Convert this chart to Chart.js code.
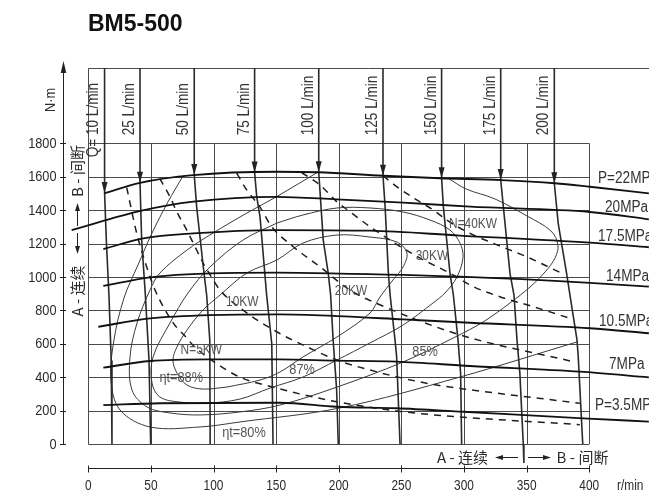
<!DOCTYPE html>
<html>
<head>
<meta charset="utf-8">
<script src="https://cdn.jsdelivr.net/npm/chart.js@4.4.1/dist/chart.umd.min.js"></script>
<style>
  html, body { margin: 0; padding: 0; background: #fff; }
  canvas { display: block; }
</style>
</head>
<body>
<canvas id="map" width="649" height="493"></canvas>
<script>
/* BM5-500 — torque / speed performance map */

const RPM_TICKS = [0, 50, 100, 150, 200, 250, 300, 350, 400];
const NM_TICKS  = [0, 200, 400, 600, 800, 1000, 1200, 1400, 1600, 1800];

// constant flow lines  [r/min, N·m]  (first point = top rule, second = arrow tip)
const FLOW_NAMES = ['Q= 10 L/min', '25 L/min', '50 L/min', '75 L/min', '100 L/min',
                    '125 L/min', '150 L/min', '175 L/min', '200 L/min'];
const FLOW_10  = [[13,2251],[13,1503],[14.5,1200],[16.5,890],[18.3,500],[18.9,0]];
const FLOW_25  = [[41.3,2251],[41.3,1564],[42.6,1221],[45.5,900],[48.5,500],[49.8,0]];
const FLOW_50  = [[84.6,2251],[84.6,1611],[86.5,1421],[91.8,1061],[94.5,892],[97,623],[97.3,0]];
const FLOW_75  = [[132.8,2251],[132.8,1625],[134.5,1480],[137.1,1361],[142.4,892],[146.5,600],[147.5,0]];
const FLOW_100 = [[184,2251],[184,1627],[187.6,1221],[191.6,1022],[193.5,892],[195.5,623],[198.3,323],[199.6,0]];
const FLOW_125 = [[235.3,2251],[235.3,1606],[237,1421],[239.6,1022],[241,892],[244.9,623],[246.2,523],[248.9,0]];
const FLOW_150 = [[282.1,2251],[282.1,1591],[283.5,1421],[288.8,1022],[291.5,892],[295.2,623],[297.3,423],[298.1,0]];
const FLOW_175 = [[329.3,2251],[329.3,1580],[331.4,1421],[336.7,1022],[339.9,892],[342.3,623],[344.6,423],[347.3,0],[347.8,-114]];
const FLOW_200 = [[372.1,2251],[372.1,1561],[375.2,1321],[381.9,1022],[384.6,892],[390.2,623],[391.2,523],[394.8,0]];
const FLOW_LINES = [FLOW_10, FLOW_25, FLOW_50, FLOW_75, FLOW_100, FLOW_125, FLOW_150, FLOW_175, FLOW_200];

// constant pressure lines
const PRESS_NAMES = ['P=22MPa', '20MPa', '17.5MPa', '14MPa', '10.5MPa', '7MPa', 'P=3.5MPa'];
const P_22   = [[12.8,1501],[41.3,1564],[83.8,1610],[150.4,1630],[183.4,1627],[235.3,1606],[280.8,1591],[330,1580],[372.6,1561],[400.5,1540],[447.6,1501]];
const P_20   = [[-13.3,1281],[42.6,1397],[83.8,1451],[150.4,1480],[198.3,1465],[251.5,1445],[304.8,1421],[400.5,1389],[447.6,1345]];
const P_17_5 = [[12,1167],[43.9,1231],[83.8,1261],[150.4,1281],[224.9,1277],[296.7,1248],[400.5,1205],[447.6,1178]];
const P_14   = [[12,946],[49.3,998],[97.2,1022],[150.4,1026],[193.3,1022],[296.7,1002],[400.5,965],[447.6,942]];
const P_10_5 = [[8,702],[49.3,752],[97.2,772],[153.1,776],[198.3,766],[251.5,746],[304.8,726],[400.5,693],[447.6,663]];
const P_7    = [[12,457],[49.3,497],[97.2,507],[153.1,507],[198.3,499],[246.2,493],[304.8,467],[392.5,433],[447.6,399]];
const P_3_5  = [[12,233],[57.2,244],[153.1,247],[198.3,223],[246.2,214],[299.4,193],[395.2,154],[447.6,134]];
const PRESSURE_LINES = [P_22, P_20, P_17_5, P_14, P_10_5, P_7, P_3_5];

// constant output power (dashed)
const POWER_NAMES = ['N=5KW', '10KW', '20KW', '30KW', 'N=40KW'];
const POWER_5  = [[30.7,1535],[38.6,1263],[46.6,1061],[53.3,922],[67.9,724],[78.6,635],[83.8,590],[99.8,495],[121.1,400],[147.7,340],[198.3,253],[251.5,193],[291.4,165],[392.5,116]];
const POWER_10 = [[57,1590],[65.2,1480],[70.6,1391],[78.6,1281],[85.2,1181],[91.8,1082],[99.8,982],[105.1,922],[121.1,815],[150.4,672],[177,573],[198.3,503],[224.9,443],[251.5,393],[278.2,353],[299.4,330],[392.5,244]];
const POWER_20 = [[118.5,1621],[126.5,1521],[137,1420],[146,1305],[163.7,1181],[185,1061],[208.8,922],[230.2,842],[297,653],[387.2,493]];
const POWER_30 = [[170.4,1625],[185,1551],[198.3,1451],[208.9,1391],[224.9,1301],[262,1125],[288.8,1022],[307.4,942],[328.6,882],[355.3,822],[384.9,752]];
const POWER_40 = [[235.3,1606],[246.2,1541],[262.2,1461],[275.5,1401],[286.1,1341],[304.8,1261],[323.4,1201],[350,1121],[380,1015]];
const POWER_LINES = [POWER_5, POWER_10, POWER_20, POWER_30, POWER_40];
const POWER_LABEL_AT = [[90.2,563],[122.9,850],[209.8,916],[274.4,1125],[307.2,1317]];

// total efficiency contours
const ETA_NAMES = ['ηt=80%', '85%', '87%', 'ηt=88%'];
const ETA_80 = [[75.6,1604],[63.6,1449],[50.9,1263],[39.7,1072],[28.5,874],[20.5,623],[18.1,383],[25.3,204],[49.3,102],[89.2,102],[121.1,132],[201,216],[296.8,401],[390.2,611]];
const ETA_85 = [[183.4,1628],[149.9,1479],[126.7,1383],[99.6,1263],[78.8,1161],[57.2,1024],[49.3,922],[38.9,724],[33.3,521],[34.9,323],[46.9,222],[65.2,186],[89.2,174],[121.1,192],[153,233],[198.6,341],[251.3,491],[292.8,640],[315.1,730],[336.7,844],[352.7,940],[364.7,1030],[372.7,1114],[375,1191],[369.5,1275],[350.3,1365],[324.7,1467],[301.6,1527],[287.2,1592]];
const ETA_87 = [[150.7,1323],[171.4,1371],[198.6,1413],[224.9,1413],[251.3,1389],[272.8,1341],[288.8,1281],[296.8,1203],[299.2,1119],[294.4,1000],[284.8,904],[275.2,844],[251.3,712],[224.9,605],[198.6,503],[171.4,401],[145.1,335],[121.1,269],[94.8,245],[73.2,251],[57.2,281],[50.9,365],[51.7,521],[65.2,724],[79.6,904],[97.2,1060],[123.5,1221],[150.7,1323]];
const ETA_88 = [[110.7,341],[137.1,383],[153,431],[171.4,521],[198.6,641],[224.9,784],[232.9,880],[243.3,982],[251.3,1060],[254.4,1143],[246.5,1209],[224.9,1239],[198.6,1251],[171.4,1203],[150.7,1102],[126.7,1024],[105.2,892],[91.6,802],[78.8,682],[70.8,581],[67.6,503],[70.8,425],[78.8,353],[91.6,329],[110.7,341]];
const ETA_LINES = [ETA_80, ETA_85, ETA_87, ETA_88];
const ETA_LABEL_AT = [[124.3,66],[268.9,551],[170.7,443],[74.2,395]];

const FONT = '"Liberation Sans", Arial, Helvetica, sans-serif';
const CJK  = '"Noto Sans CJK SC", "Noto Sans", sans-serif';

function text(ctx, s, px, py, o = {}) {
  ctx.save();
  ctx.translate(px, py);
  if (o.rot) ctx.rotate(o.rot);
  ctx.scale(o.sx ?? 0.85, 1);
  ctx.font = `${o.weight || 'normal'} ${o.size || 14}px ${o.family || FONT}`;
  ctx.fillStyle = o.color || '#2b2b2b';
  ctx.textAlign = o.align || 'left';
  ctx.textBaseline = 'middle';
  ctx.fillText(s, 0, 0);
  ctx.restore();
}

function arrowHead(ctx, tx, ty, dx, dy, len, half) {
  // tip at (tx,ty), pointing along (dx,dy)
  ctx.beginPath();
  ctx.moveTo(tx, ty);
  ctx.lineTo(tx - dx*len - dy*half, ty - dy*len + dx*half);
  ctx.lineTo(tx - dx*len + dy*half, ty - dy*len - dx*half);
  ctx.closePath();
  ctx.fill();
}

const decor = {
  id: 'decor',
  beforeDatasetsDraw(chart) {
    const { ctx, scales: { x, y } } = chart;
    const X = v => x.getPixelForValue(v), Y = v => y.getPixelForValue(v);
    const top = Y(FLOW_10[0][1]);
    ctx.save();
    ctx.strokeStyle = '#4a4a4a';
    ctx.lineWidth = 1;
    ctx.beginPath();
    RPM_TICKS.forEach(v => { const p = Math.round(X(v)) + 0.5; ctx.moveTo(p, Y(0)); ctx.lineTo(p, Y(1800)); });
    NM_TICKS.forEach(v => { const p = Math.round(Y(v)) + 0.5; ctx.moveTo(X(0), p); ctx.lineTo(X(400), p); });
    const l = Math.round(X(0)) + 0.5, t = Math.round(top) + 0.5;
    ctx.moveTo(l, Y(1800)); ctx.lineTo(l, t); ctx.lineTo(chart.width, t);
    ctx.stroke();
    ctx.restore();
  },
  afterDatasetsDraw(chart) {
    const { ctx, scales: { x, y } } = chart;
    const X = v => x.getPixelForValue(v), Y = v => y.getPixelForValue(v);
    ctx.save();
    ctx.fillStyle = '#222';
    ctx.strokeStyle = '#222';

    // arrow heads of the flow lines
    FLOW_LINES.forEach(f => arrowHead(ctx, X(f[1][0]), Y(f[1][1]), 0, 1, 11, 3));

    // flow labels, rotated
    FLOW_NAMES.forEach((s, i) => {
      const by = i === 0 ? Y(1800) + 14 : Y(1800) - 8;
      text(ctx, s, X(FLOW_LINES[i][0][0]) - 10.5, by, { size: 16, rot: -Math.PI / 2, color: '#333' });
    });

    // pressure labels on the right
    const PL = [[598,179],[605,208],[598,237],[606,277],[599,322],[609,365],[595,406]];
    PRESS_NAMES.forEach((s, i) => text(ctx, s, PL[i][0], PL[i][1], { size: 16, color: '#333' }));

    // power and efficiency labels
    POWER_NAMES.forEach((s, i) =>
      text(ctx, s, X(POWER_LABEL_AT[i][0]), Y(POWER_LABEL_AT[i][1]), { size: 14, align: 'center', color: '#555' }));
    ETA_NAMES.forEach((s, i) =>
      text(ctx, s, X(ETA_LABEL_AT[i][0]), Y(ETA_LABEL_AT[i][1]), { size: 15, align: 'center', color: '#555' }));

    // y axis
    const ax = Math.round(X(0)) - 24.5;
    ctx.lineWidth = 1;
    ctx.beginPath();
    ctx.moveTo(ax, Y(0)); ctx.lineTo(ax, 72);
    NM_TICKS.forEach(v => { const p = Math.round(Y(v)) + 0.5; ctx.moveTo(ax - 3.5, p); ctx.lineTo(ax + 2.5, p); });
    ctx.stroke();
    arrowHead(ctx, ax, 61, 0, -1, 12, 2.8);
    NM_TICKS.forEach(v => text(ctx, String(v), ax - 7, Y(v) + 0.5, { size: 15, align: 'right' }));
    text(ctx, 'N·m', ax - 13, 100, { size: 15, rot: -Math.PI / 2, align: 'center' });

    // x axis
    const ay = Y(0) + 24.5;
    ctx.beginPath();
    ctx.moveTo(X(0), ay); ctx.lineTo(X(400), ay);
    RPM_TICKS.forEach(v => { const p = Math.round(X(v)) + 0.5; ctx.moveTo(p, ay - 3); ctx.lineTo(p, ay + 4); });
    ctx.stroke();
    RPM_TICKS.forEach(v => text(ctx, String(v), X(v), 486, { size: 14, align: 'center' }));
    text(ctx, 'r/min', 617, 486, { size: 14 });

    // continuous / intermittent zones
    text(ctx, 'A - 连续', 462.5, 457.5, { size: 15, family: CJK, align: 'center', sx: 1 });
    text(ctx, 'B - 间断', 582.5, 457.5, { size: 15, family: CJK, align: 'center', sx: 1 });
    ctx.beginPath();
    ctx.moveTo(500, 457.5); ctx.lineTo(518, 457.5);
    ctx.moveTo(528, 457.5); ctx.lineTo(545, 457.5);
    ctx.stroke();
    arrowHead(ctx, 495, 457.5, -1, 0, 8, 2.5);
    arrowHead(ctx, 551, 457.5, 1, 0, 8, 2.5);

    text(ctx, 'B - 间断', 77.5, 171, { size: 15, family: CJK, rot: -Math.PI / 2, align: 'center', sx: 1 });
    text(ctx, 'A - 连续', 77.5, 291, { size: 15, family: CJK, rot: -Math.PI / 2, align: 'center', sx: 1 });
    ctx.beginPath();
    ctx.moveTo(77.5, 210); ctx.lineTo(77.5, 226);
    ctx.moveTo(77.5, 233); ctx.lineTo(77.5, 247);
    ctx.stroke();
    arrowHead(ctx, 77.5, 203, 0, -1, 8, 2.5);
    arrowHead(ctx, 77.5, 254, 0, 1, 8, 2.5);

    // title
    text(ctx, 'BM5-500', 88, 25, { size: 23, weight: 'bold', sx: 1, color: '#111' });
    ctx.restore();
  }
};

const pts = arr => arr.map(([x, y]) => ({ x, y }));
const base = { showLine: true, pointRadius: 0, pointHoverRadius: 0, fill: false };

const datasets = [
  ...PRESSURE_LINES.map((p, i) => ({ ...base, label: PRESS_NAMES[i], data: pts(p),
    borderColor: '#111', borderWidth: 1.8, cubicInterpolationMode: 'monotone' })),
  ...FLOW_LINES.map((p, i) => ({ ...base, label: FLOW_NAMES[i], data: pts(p),
    borderColor: '#2a2a2a', borderWidth: 1.6, tension: 0 })),
  ...POWER_LINES.map((p, i) => ({ ...base, label: POWER_NAMES[i], data: pts(p),
    borderColor: '#1e1e1e', borderWidth: 1.5, borderDash: [7, 6], cubicInterpolationMode: 'monotone' })),
  ...ETA_LINES.map((p, i) => ({ ...base, label: ETA_NAMES[i], data: pts(p),
    borderColor: '#3a3a3a', borderWidth: 1, tension: 0.35 })),
];

new Chart(document.getElementById('map'), {
  type: 'scatter',
  data: { datasets },
  options: {
    responsive: false,
    animation: false,
    devicePixelRatio: 1,
    layout: { padding: 0 },
    plugins: { legend: { display: false }, tooltip: { enabled: false }, title: { display: false } },
    events: [],
    scales: {
      // the whole canvas: r/min 0 sits at x=88, 400 at x=589; N·m 0 at y=444, 1800 at y=143
      x: { type: 'linear', min: -70.5, max: 447.7, display: false },
      y: { type: 'linear', min: -293.3, max: 2658.1, display: false },
    },
  },
  plugins: [decor],
});
</script>
</body>
</html>
